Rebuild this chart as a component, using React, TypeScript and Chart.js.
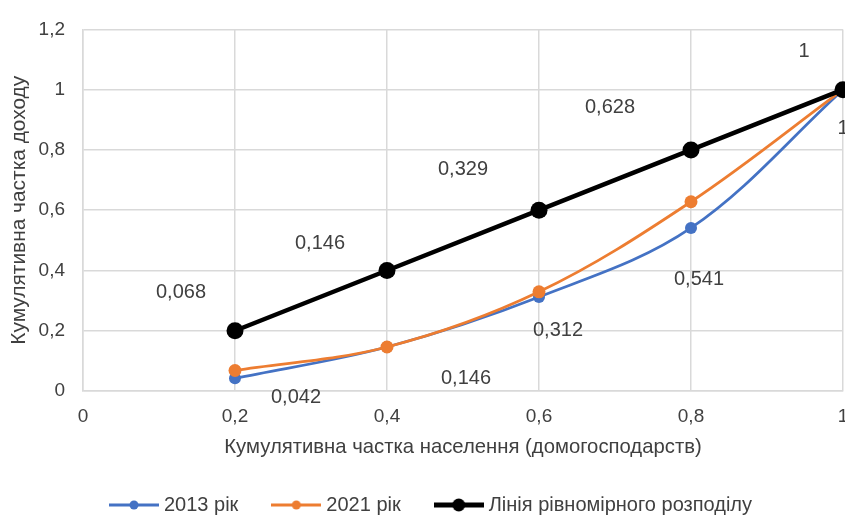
import React, { useEffect, useRef } from "react";
import { Chart, registerables } from "chart.js";

Chart.register(...registerables);

// ---- data ----
const xValues = [0.2, 0.4, 0.6, 0.8, 1];
const share2013 = [0.042, 0.146, 0.312, 0.541, 1];
const share2021 = [0.068, 0.146, 0.329, 0.628, 1];
const equalityLine = [0.2, 0.4, 0.6, 0.8, 1];
const xTickValues = [0, 0.2, 0.4, 0.6, 0.8, 1];
const yTickValues = [0, 0.2, 0.4, 0.6, 0.8, 1, 1.2];
const seriesNames = ["2013 рік", "2021 рік", "Лінія рівномірного розподілу"];
const xTitle = "Кумулятивна частка населення (домогосподарств)";
const yTitle = "Кумулятивна частка доходу";

// ---- styles ----
const FONT = '"Liberation Sans", Arial, sans-serif';
const TEXT = "#404040";
const GRID = "#d9d9d9";
const COLORS = ["#4472C4", "#ED7D31", "#000000"];
const W = 880;
const H = 525;
const PLOT_RIGHT = 843;
// pixel offsets of the value labels relative to their point
const labelOffsets2013 = [[61, 19], [79, 31], [19, 34], [8, 52], [0, 39]];
const labelOffsets2021 = [[-54, -78], [-67, -104], [-76, -122], [-81, -94], [-39, -38]];

const fmt = (v: number) => String(Math.round(v * 1000) / 1000).replace(".", ",");

function legendImage(color: string, lineW: number, r: number) {
  const c = document.createElement("canvas");
  c.width = 50;
  c.height = 20;
  const ctx = c.getContext("2d")!;
  ctx.strokeStyle = color;
  ctx.lineWidth = lineW;
  ctx.beginPath();
  ctx.moveTo(0, 10);
  ctx.lineTo(50, 10);
  ctx.stroke();
  ctx.fillStyle = color;
  ctx.beginPath();
  ctx.arc(25, 10, r, 0, Math.PI * 2);
  ctx.fill();
  return c;
}

const valueLabels = {
  id: "valueLabels",
  afterDatasetsDraw(chart: any) {
    const ctx = chart.ctx;
    ctx.save();
    ctx.font = `20px ${FONT}`;
    ctx.fillStyle = TEXT;
    ctx.textAlign = "center";
    ctx.textBaseline = "middle";
    const sets: [number, number[][]][] = [
      [0, labelOffsets2013],
      [1, labelOffsets2021],
    ];
    sets.forEach(([di, offs]) => {
      const meta = chart.getDatasetMeta(di);
      const data = chart.data.datasets[di].data;
      meta.data.forEach((pt: any, i: number) => {
        ctx.fillText(fmt(data[i].y), pt.x + offs[i][0], pt.y + offs[i][1]);
      });
    });
    ctx.restore();
  },
};

export default function App() {
  const ref = useRef<HTMLCanvasElement>(null);
  useEffect(() => {
    const images = [
      legendImage(COLORS[0], 3, 4.5),
      legendImage(COLORS[1], 3, 4.5),
      legendImage(COLORS[2], 5, 6.5),
    ];
    const mk = (vals: number[]) => xValues.map((x, i) => ({ x, y: vals[i] }));
    const chart = new Chart(ref.current!, {
      type: "line",
      data: {
        datasets: [
          {
            label: seriesNames[0],
            data: mk(share2013),
            borderColor: COLORS[0],
            backgroundColor: COLORS[0],
            borderWidth: 2.75,
            pointRadius: 6,
            pointBorderWidth: 0,
            tension: 0.35,
            order: 2,
            clip: false,
          },
          {
            label: seriesNames[1],
            data: mk(share2021),
            borderColor: COLORS[1],
            backgroundColor: COLORS[1],
            borderWidth: 2.75,
            pointRadius: 6.5,
            pointBorderWidth: 0,
            tension: 0.35,
            order: 1,
            clip: false,
          },
          {
            label: seriesNames[2],
            data: mk(equalityLine),
            borderColor: COLORS[2],
            backgroundColor: COLORS[2],
            borderWidth: 4.5,
            pointRadius: 8.5,
            pointBorderWidth: 0,
            tension: 0,
            order: 0,
            clip: false,
          },
        ],
      } as any,
      options: {
        responsive: false,
        animation: false,
        layout: { padding: { top: 26.5, right: W - PLOT_RIGHT, left: 23, bottom: 0 } },
        scales: {
          x: {
            type: "linear",
            min: 0,
            max: 1,
            afterBuildTicks: (s: any) => {
              s.ticks = xTickValues.map((v) => ({ value: v }));
            },
            afterFit: (s: any) => {
              s.height = 66;
            },
            ticks: {
              padding: 14,
              color: TEXT,
              font: { family: FONT, size: 19 },
              callback: (v: any) => fmt(Number(v)),
            },
            grid: { color: GRID, lineWidth: 1.5, drawTicks: false },
            border: { color: GRID, width: 1.5 },
            title: {
              display: true,
              text: xTitle,
              color: TEXT,
              font: { family: FONT, size: 20.3 },
              padding: { top: 0, bottom: -3 },
            },
          },
          y: {
            type: "linear",
            min: 0,
            max: 1.2,
            afterBuildTicks: (s: any) => {
              s.ticks = yTickValues.map((v) => ({ value: v }));
            },
            afterFit: (s: any) => {
              s.width = 60;
            },
            ticks: {
              padding: 18,
              color: TEXT,
              font: { family: FONT, size: 19 },
              callback: (v: any) => fmt(Number(v)),
            },
            grid: { color: GRID, lineWidth: 1.5, drawTicks: false },
            border: { color: GRID, width: 1.5 },
            title: {
              display: true,
              text: yTitle,
              color: TEXT,
              font: { family: FONT, size: 20.9 },
              padding: { top: -16, bottom: 0 },
            },
          },
        },
        plugins: {
          tooltip: { enabled: false },
          legend: {
            position: "bottom",
            labels: {
              usePointStyle: true,
              pointStyleWidth: 40,
              padding: 38,
              color: TEXT,
              font: { family: FONT, size: 20 },
              generateLabels: (c: any) =>
                c.data.datasets.map((ds: any, i: number) => ({
                  text: ds.label,
                  pointStyle: images[i],
                  fillStyle: COLORS[i],
                  strokeStyle: COLORS[i],
                  lineWidth: 0,
                  hidden: false,
                  datasetIndex: i,
                  fontColor: TEXT,
                })),
            },
          },
        },
      } as any,
      plugins: [valueLabels],
    });
    return () => chart.destroy();
  }, []);
  return (
    <div style={{ position: "fixed", left: 0, top: 0, width: W, height: H, background: "#fff" }}>
      <canvas ref={ref} width={W} height={H} style={{ width: W, height: H, display: "block" }} />
    </div>
  );
}
